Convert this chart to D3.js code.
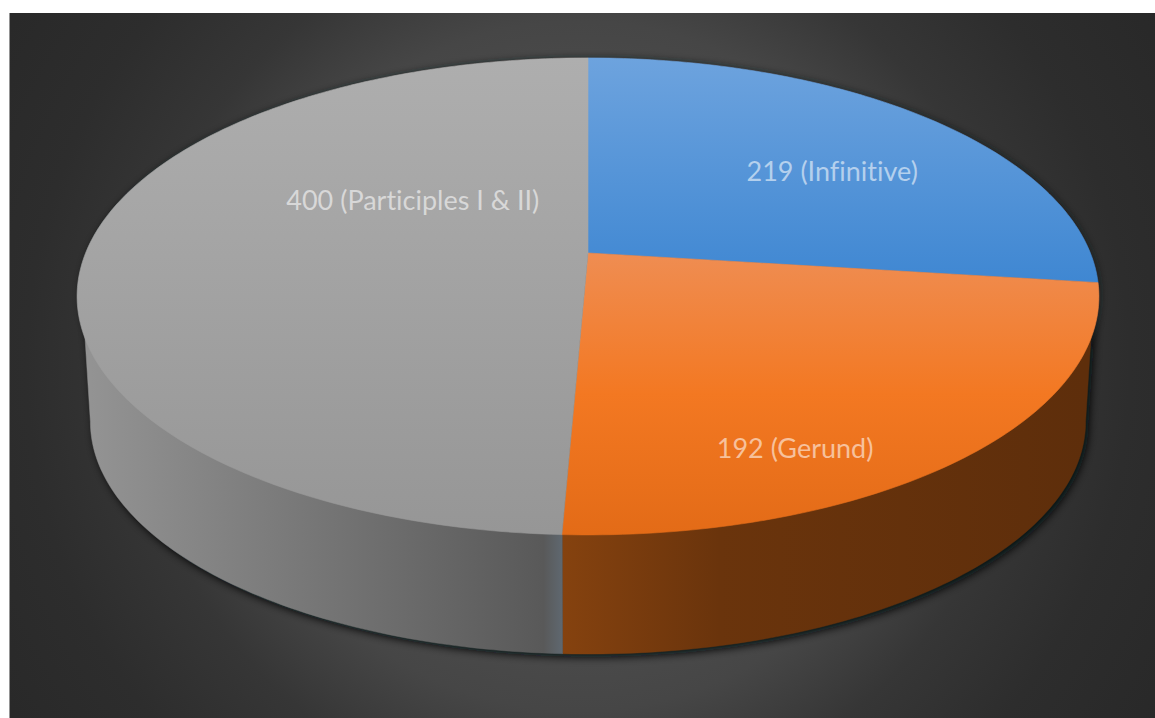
<!DOCTYPE html>
<html>
<head>
<meta charset="utf-8">
<style>
  html, body { margin: 0; padding: 0; background: #fff; overflow: hidden; }
  svg { display: block; }
  text { font-family: Lato, "Open Sans", sans-serif; font-variant-ligatures: none; }
</style>
<script src="https://cdn.jsdelivr.net/npm/d3@7"></script>
</head>
<body>
<svg id="chart" width="1155" height="718"></svg>
<script>
// Non-finite verb forms counted in the corpus
const categories = ["Infinitive", "Gerund", "Participles I & II"];
const counts = [219, 192, 400];

const topStops = [
  [[0, "#6da3de"], [1, "#3f87d2"]],
  [[0, "#ef8d52"], [0.5, "#f37822"], [1, "#e36b17"]],
  [[0, "#aeaeae"], [1, "#969696"]]
];
const sideStops = [
  [[0, "#2f5f94"], [1, "#2f5f94"]],
  [[0, "#85420f"], [0.3, "#6a340c"], [1, "#5e2e0b"]],
  [[0, "#939393"], [0.96, "#595959"], [1, "#5f6870"]]
];

const width = 1155, height = 718;
const svg = d3.select("#chart");
const defs = svg.append("defs");

// Perspective of the tilted disc: centre of rotation, half-width, half-depth, foreshortening
const hub = { x: 588, y: 253 };
const disc = { a: 502.4, b: 230.6, k: 0.182 };
// The lower rim shrinks toward a far vanishing point below the pie
const vanish = { x: 588, y: 5100 }, rimScale = 0.9739;
// Angles between which the outer wall faces the viewer
const wallFrom = Math.PI / 2 + Math.asin(disc.k), wallTo = 2 * Math.PI - wallFrom;

function project(angle, r = 1) {
  const u = r * Math.sin(angle), v = -r * Math.cos(angle);
  const w = 1 - disc.k * v;
  return [hub.x + disc.a * u / w, hub.y + disc.b * v / w];
}
function projectRim(angle) {
  const [x, y] = project(angle);
  return [vanish.x + rimScale * (x - vanish.x), vanish.y + rimScale * (y - vanish.y)];
}

const pieAngles = d3.pie().sort(null).value(d => d)(counts);
const line = d3.line();
const sampleAngles = (a0, a1) => {
  const n = Math.max(8, Math.ceil((a1 - a0) * 60));
  return d3.range(n + 1).map(i => a0 + (a1 - a0) * i / n);
};
// The band's upper edge tucks slightly under the top face so no seam shows
const wallBand = (a0, a1) => {
  const angles = sampleAngles(a0, a1);
  return line(angles.map(a => project(a, 0.99)).concat(angles.slice().reverse().map(a => projectRim(a)))) + "Z";
};

// Background panel: soft radial glow on charcoal
const bg = defs.append("radialGradient").attr("id", "panel")
  .attr("gradientUnits", "userSpaceOnUse")
  .attr("cx", 578).attr("cy", 366).attr("r", 690);
[[0, "#5c5c5c"], [0.5, "#464646"], [0.64, "#363636"], [0.8, "#2d2d2d"], [1, "#282828"]].forEach(([o, c]) =>
  bg.append("stop").attr("offset", o).attr("stop-color", c));
svg.append("rect").attr("x", 9.5).attr("y", 13).attr("width", width).attr("height", height)
  .attr("fill", "url(#panel)");

// Soft shadow hugging the pie's outline
const blur = (id, sd) => defs.append("filter").attr("id", id)
  .attr("x", "-10%").attr("y", "-10%").attr("width", "120%").attr("height", "120%")
  .append("feGaussianBlur").attr("stdDeviation", sd);
blur("softTop", 3);
blur("softWall", 4);
const full = sampleAngles(0, 2 * Math.PI);
svg.append("path").attr("filter", "url(#softTop)").attr("opacity", 0.55)
  .attr("transform", "translate(2,-1)")
  .attr("d", line(full.map(a => project(a))) + "Z").attr("fill", "#101418");
svg.append("path").attr("filter", "url(#softWall)").attr("opacity", 0.95)
  .attr("transform", "translate(3,3)")
  .attr("d", wallBand(wallFrom, wallTo)).attr("fill", "#06080a");

// Gradients for the top faces and the outer wall
pieAngles.forEach((d, i) => {
  const pts = sampleAngles(d.startAngle, d.endAngle).map(a => project(a)).concat([[hub.x, hub.y]]);
  const g = defs.append("linearGradient").attr("id", `top${i}`)
    .attr("gradientUnits", "userSpaceOnUse")
    .attr("x1", 0).attr("x2", 0)
    .attr("y1", d3.min(pts, p => p[1])).attr("y2", d3.max(pts, p => p[1]));
  topStops[i].forEach(([o, c]) => g.append("stop").attr("offset", o).attr("stop-color", c));

  const a0 = Math.max(d.startAngle, wallFrom), a1 = Math.min(d.endAngle, wallTo);
  const rim = a1 > a0 ? sampleAngles(a0, a1).map(a => projectRim(a)) : [[0, 0], [1, 0]];
  const s = defs.append("linearGradient").attr("id", `side${i}`)
    .attr("gradientUnits", "userSpaceOnUse")
    .attr("y1", 0).attr("y2", 0)
    .attr("x1", d3.min(rim, p => p[0]))
    .attr("x2", d3.max(rim, p => p[0]));
  sideStops[i].forEach(([o, c]) => s.append("stop").attr("offset", o).attr("stop-color", c));
});

// Outer wall of each slice, limited to the part facing the viewer, then the top faces over it
svg.append("g").selectAll("path")
  .data(pieAngles.filter(d => Math.min(d.endAngle, wallTo) > Math.max(d.startAngle, wallFrom)))
  .join("path")
  .attr("d", d => wallBand(Math.max(d.startAngle, wallFrom), Math.min(d.endAngle, wallTo)))
  .attr("fill", d => `url(#side${d.index})`)
  .attr("stroke", d => `url(#side${d.index})`)
  .attr("stroke-width", 0.5);

svg.append("g").selectAll("path").data(pieAngles).join("path")
  .attr("d", d => line([[hub.x, hub.y]].concat(sampleAngles(d.startAngle, d.endAngle).map(a => project(a)))) + "Z")
  .attr("fill", (d, i) => `url(#top${i})`)
  .attr("stroke", (d, i) => `url(#top${i})`)
  .attr("stroke-width", 0.6);

// Value labels, placed on the top face in disc coordinates (angle, radius)
const labelPlaces = [[53.5, 0.647], [154, 0.815], [-56.6, 0.436]];
svg.append("g").selectAll("text").data(pieAngles).join("text")
  .attr("x", (d, i) => project(labelPlaces[i][0] * Math.PI / 180, labelPlaces[i][1])[0])
  .attr("y", (d, i) => project(labelPlaces[i][0] * Math.PI / 180, labelPlaces[i][1])[1])
  .attr("text-anchor", "middle").attr("dominant-baseline", "central")
  .attr("font-size", 27).attr("fill", "#fff").attr("fill-opacity", 0.56)
  .text((d, i) => `${counts[i]} (${categories[i]})`);
</script>
</body>
</html>
